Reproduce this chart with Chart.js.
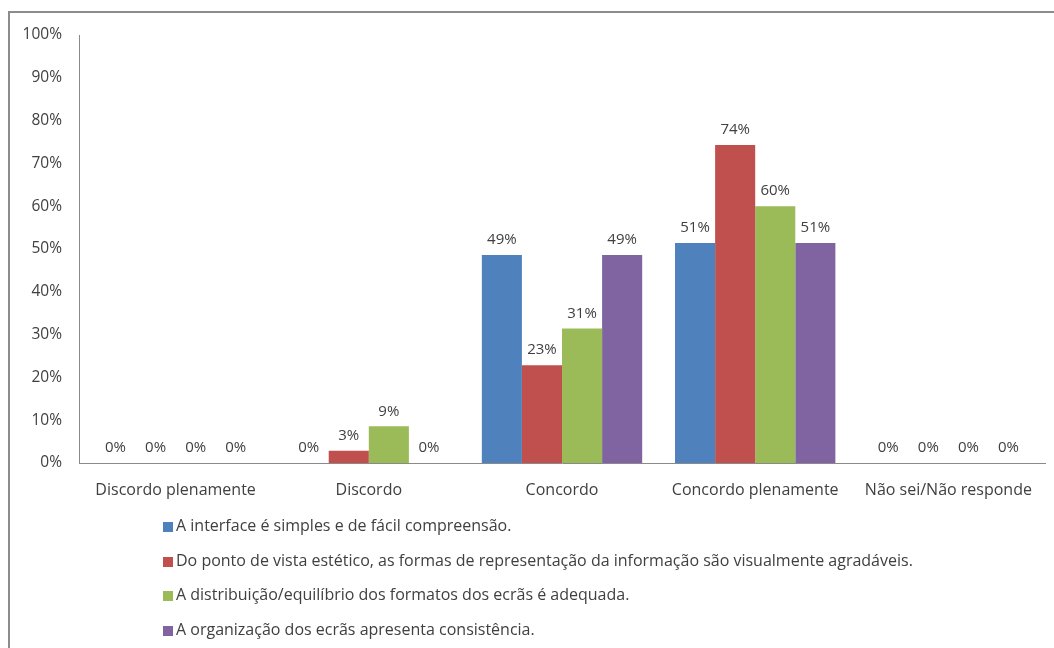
<!DOCTYPE html>
<html>
<head>
<meta charset="utf-8">
<script src="https://cdn.jsdelivr.net/npm/chart.js@4/dist/chart.umd.min.js"></script>
<style>
  html, body { margin: 0; padding: 0; background: #fff; }
  #wrap { position: relative; width: 1054px; height: 648px; overflow: hidden; }
  #frame { position: absolute; left: 8px; top: 11px; width: 1100px; height: 700px;
           border-top: 2px solid #8c8c8c; border-left: 2px solid #8c8c8c; }
  #chart { position: absolute; left: 0; top: 0; }
  #legend { position: absolute; left: 163px; top: 514px; font-family: "Open Sans", Lato, sans-serif;
            font-size: 16px; color: #404040; }
  #legend div { height: 34.5px; line-height: 22px; white-space: nowrap; }
  #legend span { display: inline-block; width: 10px; height: 10px; margin-right: 3px; vertical-align: -1px; }
</style>
</head>
<body>
<div id="wrap">
  <div id="frame"></div>
  <canvas id="chart" width="1054" height="648"></canvas>
  <div id="legend"></div>
</div>
<script>
// respostas (n = 35), em percentagem
const categorias = ['Discordo plenamente', 'Discordo', 'Concordo', 'Concordo plenamente', 'Não sei/Não responde'];
const serieNomes = [
  'A interface é simples e de fácil compreensão.',
  'Do ponto de vista estético, as formas de representação da informação são visualmente agradáveis.',
  'A distribuição/equilíbrio dos formatos dos ecrãs é adequada.',
  'A organização dos ecrãs apresenta consistência.'
];
const interfaceSimples = [0, 0, 48.57, 51.43, 0];
const esteticaAgradavel = [0, 2.86, 22.86, 74.29, 0];
const distribuicaoAdequada = [0, 8.57, 31.43, 60, 0];
const organizacaoConsistente = [0, 0, 48.57, 51.43, 0];
const yTicks = [0, 10, 20, 30, 40, 50, 60, 70, 80, 90, 100];

const cores = ['#4F81BD', '#C0504D', '#9BBB59', '#8064A2'];
const series = [interfaceSimples, esteticaAgradavel, distribuicaoAdequada, organizacaoConsistente];
const fonte = '"Open Sans", Lato, sans-serif';

// etiquetas de valor por cima das barras
const rotulos = {
  id: 'rotulos',
  afterDatasetsDraw(chart) {
    const ctx = chart.ctx;
    ctx.save();
    ctx.font = '15px ' + fonte;
    ctx.fillStyle = '#404040';
    ctx.textAlign = 'center';
    ctx.textBaseline = 'middle';
    chart.data.datasets.forEach((ds, i) => {
      chart.getDatasetMeta(i).data.forEach((bar, j) => {
        ctx.fillText(Math.round(ds.data[j]) + '%', bar.x, bar.y - 15);
      });
    });
    ctx.restore();
  }
};

new Chart(document.getElementById('chart'), {
  type: 'bar',
  data: {
    labels: categorias,
    datasets: series.map((d, i) => ({
      label: serieNomes[i],
      data: d,
      backgroundColor: cores[i],
      borderWidth: 0,
      barPercentage: 1,
      categoryPercentage: 0.83
    }))
  },
  options: {
    responsive: false,
    animation: false,
    layout: { padding: { left: 0, top: 35, right: 9, bottom: 145 } },
    plugins: { legend: { display: false }, tooltip: { enabled: false } },
    scales: {
      x: {
        grid: { display: false, drawTicks: false },
        border: { display: true, color: '#8a8a8a', width: 1 },
        ticks: { color: '#404040', font: { family: fonte, size: 16 }, padding: 18, maxRotation: 0 },
        afterFit(s) { s.height = 40; }
      },
      y: {
        min: 0, max: 100,
        grid: { display: false, drawTicks: false },
        border: { display: true, color: '#8a8a8a', width: 1 },
        afterBuildTicks(s) { s.ticks = yTicks.map(v => ({ value: v })); },
        ticks: { color: '#404040', font: { family: fonte, size: 15.5 }, padding: 17, callback: v => v + '%' },
        afterFit(s) { s.width = 79; }
      }
    }
  },
  plugins: [rotulos]
});

// legenda vertical
const leg = document.getElementById('legend');
serieNomes.forEach((n, i) => {
  const row = document.createElement('div');
  const sq = document.createElement('span');
  sq.style.background = cores[i];
  row.appendChild(sq);
  row.appendChild(document.createTextNode(n));
  leg.appendChild(row);
});
</script>
</body>
</html>
